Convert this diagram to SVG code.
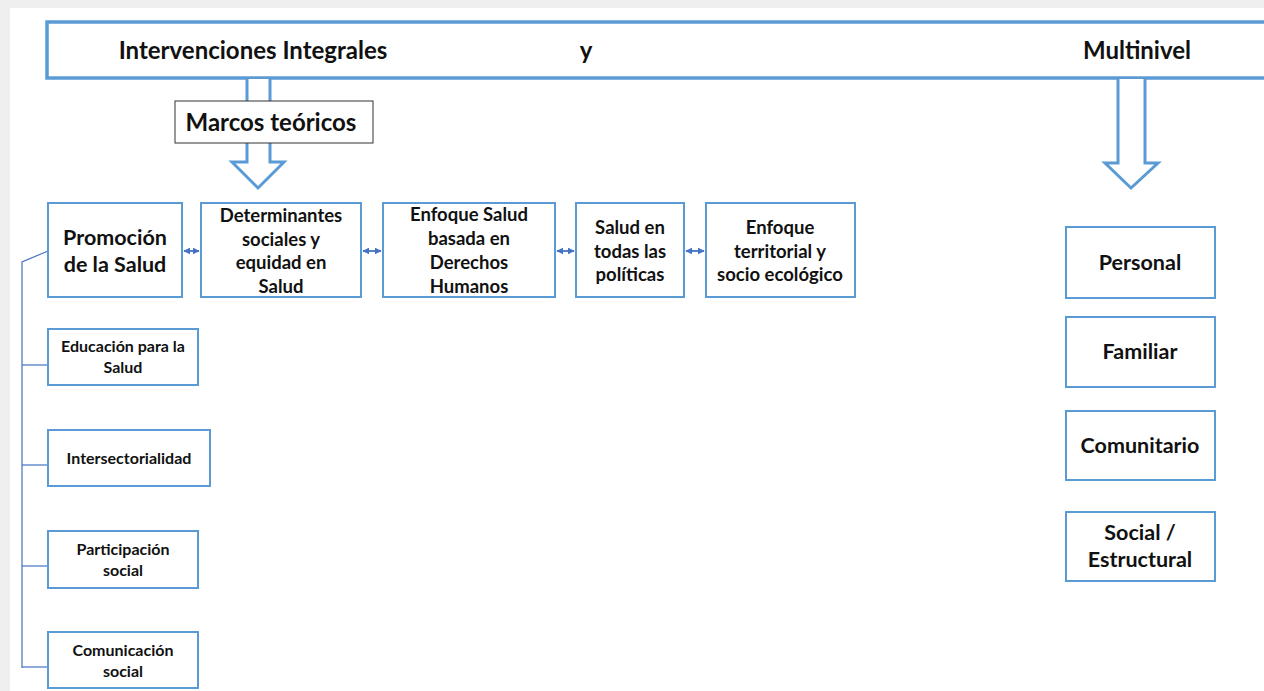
<svg xmlns="http://www.w3.org/2000/svg" width="1264" height="691" viewBox="0 0 1264 691">
<style>
.t{font-family:Lato,"Liberation Sans",sans-serif;font-weight:bold;fill:#111;text-anchor:middle}
.box{fill:#fff;stroke:#5b9bd5;stroke-width:2}
.big{fill:none;stroke:#5b9bd5;stroke-width:3.5}
.arr{fill:#fff;stroke:#5b9bd5;stroke-width:3}
.ln{fill:none;stroke:#4472c4;stroke-width:1.2}
.dbl{stroke:#4472c4;stroke-width:1.8;marker-start:url(#ah);marker-end:url(#ah)}
</style>
<defs>
<marker id="ah" viewBox="0 0 10 10" refX="9" refY="5" markerWidth="7" markerHeight="7" orient="auto-start-reverse" markerUnits="userSpaceOnUse">
<path d="M0,0 L10,5 L0,10 z" fill="#4472c4"/>
</marker>
</defs>
<rect x="0" y="0" width="1264" height="691" fill="#fff"/>
<rect x="0" y="0" width="1264" height="8" fill="#efefef"/>
<rect x="0" y="0" width="10" height="691" fill="#efefef"/>

<g id="top">
<rect class="big" x="47" y="22" width="1230" height="56" fill="#fff"/>
<text class="t" x="253" y="59" font-size="24">Intervenciones Integrales</text>
<text class="t" x="586" y="59" font-size="24">y</text>
<text class="t" x="1137" y="59" font-size="24">Multinivel</text>
</g>

<g id="arrow-left">
<path class="arr" d="M247,79 L247,162 L232,162 L258,188 L284,162 L270,162 L270,79"/>
</g>
<g id="marcos">
<rect x="175" y="101" width="198" height="42" fill="#fff" stroke="#333" stroke-width="1"/>
<text class="t" x="271" y="131" font-size="24">Marcos teóricos</text>
</g>
<g id="arrow-right">
<path class="arr" d="M1118,79 L1118,163 L1105,163 L1131,188 L1158,163 L1145,163 L1145,79"/>
</g>

<g id="connectors">
<line class="dbl" x1="184" y1="251" x2="199" y2="251"/>
<line class="dbl" x1="363" y1="251" x2="381" y2="251"/>
<line class="dbl" x1="557" y1="251" x2="574" y2="251"/>
<line class="dbl" x1="686" y1="251" x2="704" y2="251"/>
<path class="ln" d="M48,251 L22,262 L22,668"/>
<line class="ln" x1="22" y1="365" x2="48" y2="365"/>
<line class="ln" x1="22" y1="465" x2="48" y2="465"/>
<line class="ln" x1="22" y1="566" x2="48" y2="566"/>
<line class="ln" x1="22" y1="667" x2="48" y2="667"/>
</g>

<g id="promocion">
<rect class="box" x="48" y="203" width="134" height="94"/>
<text class="t" x="115" y="245" font-size="21.5">Promoción</text>
<text class="t" x="115" y="272" font-size="21.5">de la Salud</text>
</g>
<g id="determinantes">
<rect class="box" x="201" y="203" width="160" height="94"/>
<text class="t" x="281" y="222" font-size="18.5">Determinantes</text>
<text class="t" x="281" y="246" font-size="18.5">sociales y</text>
<text class="t" x="281" y="269" font-size="18.5">equidad en</text>
<text class="t" x="281" y="293" font-size="18.5">Salud</text>
</g>
<g id="enfoque-ddhh">
<rect class="box" x="383" y="203" width="172" height="94"/>
<text class="t" x="469" y="221" font-size="18.5">Enfoque Salud</text>
<text class="t" x="469" y="245" font-size="18.5">basada en</text>
<text class="t" x="469" y="269" font-size="18.5">Derechos</text>
<text class="t" x="469" y="293" font-size="18.5">Humanos</text>
</g>
<g id="salud-todas">
<rect class="box" x="576" y="203" width="108" height="94"/>
<text class="t" x="630" y="234" font-size="18.5">Salud en</text>
<text class="t" x="630" y="258" font-size="18.5">todas las</text>
<text class="t" x="630" y="281" font-size="18.5">políticas</text>
</g>
<g id="enfoque-territorial">
<rect class="box" x="706" y="203" width="149" height="94"/>
<text class="t" x="780" y="234" font-size="18.5">Enfoque</text>
<text class="t" x="780" y="258" font-size="18.5">territorial y</text>
<text class="t" x="780" y="281" font-size="18.5">socio ecológico</text>
</g>

<g id="educacion">
<rect class="box" x="48" y="329" width="150" height="56"/>
<text class="t" x="123" y="352" font-size="16">Educación para la</text>
<text class="t" x="123" y="373" font-size="16">Salud</text>
</g>
<g id="intersectorialidad">
<rect class="box" x="48" y="430" width="162" height="56"/>
<text class="t" x="129" y="464" font-size="16">Intersectorialidad</text>
</g>
<g id="participacion">
<rect class="box" x="48" y="531" width="150" height="57"/>
<text class="t" x="123" y="555" font-size="16">Participación</text>
<text class="t" x="123" y="576" font-size="16">social</text>
</g>
<g id="comunicacion">
<rect class="box" x="48" y="632" width="150" height="56"/>
<text class="t" x="123" y="656" font-size="16">Comunicación</text>
<text class="t" x="123" y="677" font-size="16">social</text>
</g>

<g id="personal">
<rect class="box" x="1066" y="227" width="149" height="71"/>
<text class="t" x="1140" y="270" font-size="21.5">Personal</text>
</g>
<g id="familiar">
<rect class="box" x="1066" y="317" width="149" height="70"/>
<text class="t" x="1140" y="359" font-size="21.5">Familiar</text>
</g>
<g id="comunitario">
<rect class="box" x="1066" y="411" width="149" height="69"/>
<text class="t" x="1140" y="453" font-size="21.5">Comunitario</text>
</g>
<g id="social">
<rect class="box" x="1066" y="512" width="149" height="69"/>
<text class="t" x="1140" y="540" font-size="21.5">Social /</text>
<text class="t" x="1140" y="567" font-size="21.5">Estructural</text>
</g>
</svg>
